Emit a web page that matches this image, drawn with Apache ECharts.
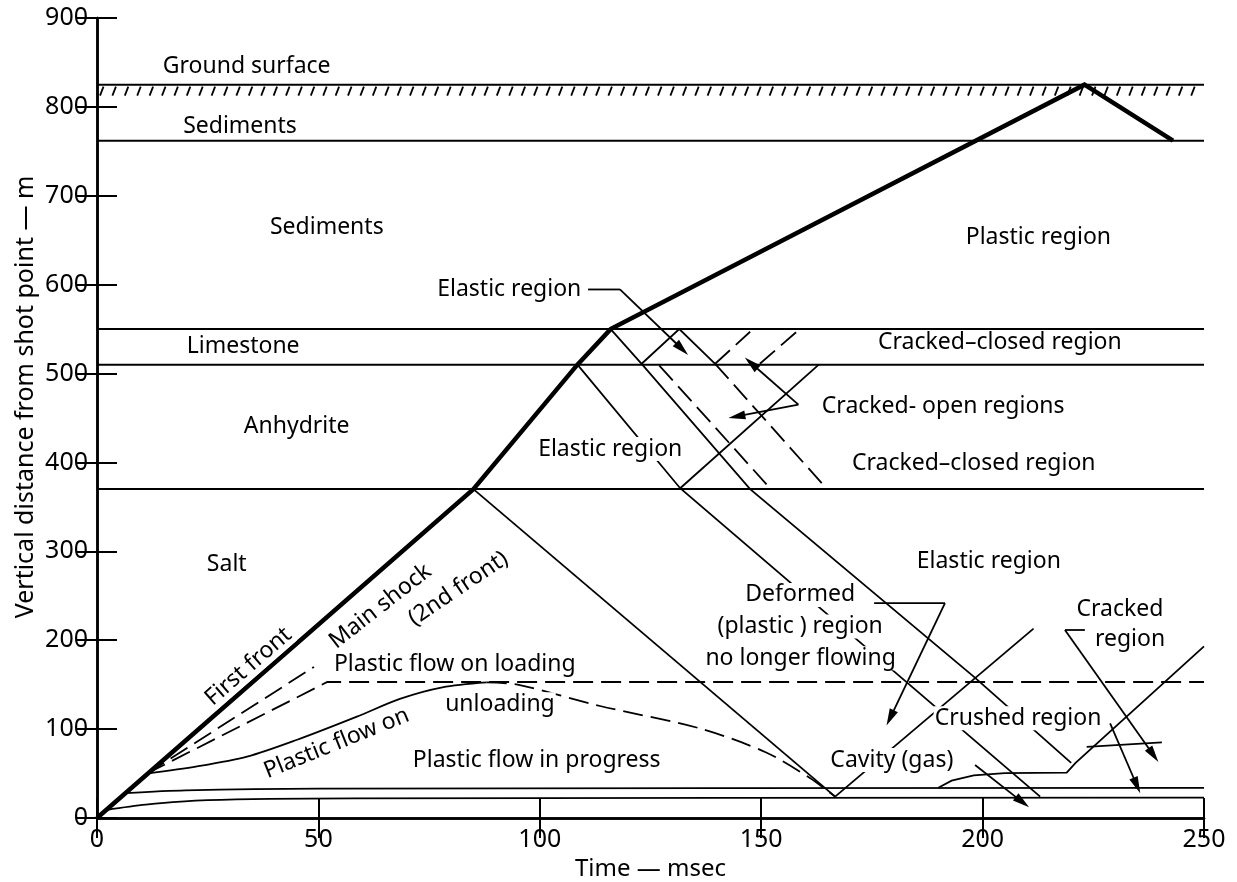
<!DOCTYPE html>
<html>
<head>
<meta charset="utf-8">
<script src="https://cdn.jsdelivr.net/npm/echarts@6/dist/echarts.min.js"></script>
<style>
  html, body { margin: 0; padding: 0; background: #fff; }
  #chart { width: 1237px; height: 882px; }
</style>
</head>
<body>
<div id="chart"></div>
<script>
// axes: time (msec) and vertical distance from shot point (m)
const timeTicks = [0, 50, 100, 150, 200, 250];
const depthTicks = [0, 100, 200, 300, 400, 500, 600, 700, 800, 900];

// layer boundaries (m)
const groundSurface = 825;
const layerBounds = [762, 550, 510, 370];

// first front (heavy line)
const firstFront = [[0, 0], [85, 370], [108.5, 510], [116, 550], [223, 825], [243, 762]];

// reflected / refracted fronts
const reflect1 = [[85, 370], [166.7, 24]];
const reflect2 = [[108.5, 510], [131.7, 371], [213, 24]];
const reflect3 = [[116, 550], [123, 511], [147.5, 370], [198, 159], [220, 62]];
const upRay1 = [[123, 511], [131.5, 550], [139.6, 511]];
const upRay2 = [[131.7, 371], [163, 510]];
const cavityRay = [[166.7, 24], [211.5, 213]];

// cracked regions (dashed)
const crackDash1 = [[127, 509], [152, 371]];
const crackDash2 = [[139.6, 511], [164.7, 371]];
const crackDash3 = [[139.6, 511], [147.5, 547]];
const crackDash4 = [[149.7, 511], [158, 547]];

// plastic flow
const loadingUpper = [[11.3, 50], [49, 170]];
const loadingLower = [[11.3, 50], [52, 153], [250, 153]];
const unloadSolid = [[11.3, 50], [22.6, 58], [33.9, 69], [45.2, 88], [58.7, 114], [68.4, 134], [78, 147], [88, 152.5]];
const unloadDashed = [[88, 152.5], [95, 150], [113.6, 126], [136, 101], [151, 74], [161, 45], [166.7, 24]];

// bottom lines, crushed region, cavity
const bottomUpper = [[6.5, 28], [20, 31], [50, 33], [250, 34]];
const bottomLower = [[2, 9], [11, 15], [25, 20], [58, 22], [250, 23]];
const crushedEdge = [[190, 34], [193, 42], [198, 48], [205, 50.5], [219, 51], [221, 62], [250, 193]];
const crushedBranch = [[223.5, 80], [240.5, 85]];

// leader lines without heads
const leaders = [
  [[110.9, 594.6], [118.1, 594.6]],
  [[175.5, 241.8], [191.5, 241.8]],
  [[218.6, 211.5], [223.1, 211.5]]
];
// arrows: x1, y1, x2 (head), y2 (head)
const arrows = [
  [118.1, 594.6, 133.5, 521],
  [158.4, 465, 146.3, 518],
  [158.4, 465, 142.6, 450],
  [191.5, 241.8, 178.3, 104],
  [218.6, 211.5, 239.7, 63],
  [228.8, 106.5, 235.6, 27.8],
  [198.3, 59.6, 210.5, 12]
];

// labels: text, time, distance
const labels = [
  ['Ground surface', 33.8, 846],
  ['Sediments', 32.3, 778],
  ['Sediments', 51.9, 664],
  ['Limestone', 33, 530],
  ['Anhydrite', 45.1, 441],
  ['Salt', 29.3, 285],
  ['Plastic region', 212.6, 653],
  ['Elastic region', 93.1, 595],
  ['Cracked–closed region', 203.9, 535],
  ['Cracked- open regions', 191.1, 463],
  ['Elastic region', 115.9, 415],
  ['Cracked–closed region', 198, 399.4],
  ['Elastic region', 201.4, 288.6],
  ['Deformed', 158.8, 251],
  ['(plastic ) region', 158.8, 215.4],
  ['no longer flowing', 158.9, 179.8],
  ['Cracked', 231, 235],
  ['region', 233.3, 201],
  ['Crushed region', 208, 112.3],
  ['Cavity (gas)', 179.5, 65.3],
  ['Plastic flow in progress', 99.3, 65.3],
  ['Plastic flow on loading', 80.8, 172.3],
  ['Plastic flow on', 54.1, 84],
  ['unloading', 91, 128],
  ['First front', 34.2, 170.4],
  ['Main shock', 64, 238],
  ['(2nd front)', 81.6, 258]
];
const labelRotate = { 'Plastic flow on': 22, 'First front': 41, 'Main shock': 38, '(2nd front)': 34 };

const FONT = '"Noto Sans", sans-serif';

function lineSeries(data, width, dashed, smooth) {
  return {
    type: 'line',
    data: data,
    showSymbol: false,
    symbol: 'none',
    silent: true,
    smooth: smooth || false,
    z: 2,
    lineStyle: { color: '#000', width: width, type: dashed ? [20, 8] : 'solid', join: 'miter' }
  };
}

const series = [];
[groundSurface].concat(layerBounds).forEach(function (d) {
  series.push(lineSeries([[timeTicks[0], d], [timeTicks[timeTicks.length - 1], d]], 2));
});
series.push(lineSeries(firstFront, 4.5));
[reflect1, reflect2, reflect3, upRay1, upRay2, cavityRay, crushedBranch]
  .forEach(function (d) { series.push(lineSeries(d, 1.8)); });
[unloadSolid, bottomUpper, bottomLower].forEach(function (d) { series.push(lineSeries(d, 1.8, false, 0.3)); });
series.push(lineSeries(crushedEdge, 1.8));
[crackDash1, crackDash2, crackDash3, crackDash4, loadingUpper, loadingLower]
  .forEach(function (d) { series.push(lineSeries(d, 1.8, true)); });
series.push(lineSeries(unloadDashed, 1.8, true, 0.3));
leaders.forEach(function (d) { series.push(lineSeries(d, 1.8)); });

// hatching under the ground surface line
series.push({
  type: 'custom',
  silent: true,
  z: 2,
  data: [[timeTicks[0], timeTicks[timeTicks.length - 1], groundSurface]],
  renderItem: function (params, api) {
    const a = api.coord([api.value(0), api.value(2)]);
    const b = api.coord([api.value(1), api.value(2)]);
    const children = [];
    for (let x = a[0] + 3; x < b[0] - 2; x += 12.4) {
      children.push({
        type: 'line',
        shape: { x1: x + 3.5, y1: a[1] + 2, x2: x, y2: a[1] + 11 },
        style: { stroke: '#000', lineWidth: 1.8 }
      });
    }
    return { type: 'group', children: children };
  }
});

// arrows with filled heads
series.push({
  type: 'custom',
  silent: true,
  z: 3,
  data: arrows,
  renderItem: function (params, api) {
    const a = api.coord([api.value(0), api.value(1)]);
    const b = api.coord([api.value(2), api.value(3)]);
    const dx = b[0] - a[0], dy = b[1] - a[1];
    const len = Math.sqrt(dx * dx + dy * dy);
    const ux = dx / len, uy = dy / len;
    const hl = 17, hw = 4.5;
    const base = [b[0] - ux * hl, b[1] - uy * hl];
    return {
      type: 'group',
      children: [
        { type: 'line', shape: { x1: a[0], y1: a[1], x2: base[0] + ux * 2, y2: base[1] + uy * 2 }, style: { stroke: '#000', lineWidth: 1.8 } },
        { type: 'polygon', shape: { points: [b, [base[0] - uy * hw, base[1] + ux * hw], [base[0] + uy * hw, base[1] - ux * hw]] }, style: { fill: '#000' } }
      ]
    };
  }
});

// text labels (white box hides the lines running behind them)
series.push({
  type: 'custom',
  silent: true,
  z: 10,
  data: labels.map(function (l) { return [l[1], l[2]]; }),
  renderItem: function (params, api) {
    const p = api.coord([api.value(0), api.value(1)]);
    const txt = labels[params.dataIndex][0];
    const rot = labelRotate[txt] || 0;
    return {
      type: 'text',
      x: p[0],
      y: p[1],
      rotation: rot * Math.PI / 180,
      style: {
        text: txt,
        fill: '#000',
        font: '23px ' + FONT,
        lineHeight: 24,
        align: 'center',
        verticalAlign: 'middle',
        backgroundColor: '#fff',
        padding: [0, 1]
      }
    };
  }
});

const axisLine = { show: true, lineStyle: { color: '#000', width: 2.5 } };
const axisTick = { show: true, inside: true, length: 20, lineStyle: { color: '#000', width: 2 } };

const option = {
  animation: false,
  backgroundColor: '#fff',
  grid: { left: 97, right: 33, top: 18, bottom: 64, containLabel: false, outerBoundsMode: 'none' },
  xAxis: [
    {
      type: 'value', position: 'bottom',
      min: timeTicks[0], max: timeTicks[timeTicks.length - 1], interval: timeTicks[1] - timeTicks[0],
      axisLine: axisLine, axisTick: axisTick, splitLine: { show: false },
      axisLabel: { color: '#000', fontSize: 25, fontFamily: FONT, margin: 9 },
      name: 'Time — msec', nameLocation: 'middle', nameGap: 36,
      nameTextStyle: { color: '#000', fontSize: 24, fontFamily: FONT }
    },
    {
      type: 'value', position: 'top',
      min: timeTicks[0], max: timeTicks[timeTicks.length - 1], interval: timeTicks[1] - timeTicks[0],
      axisLine: axisLine, axisTick: axisTick, splitLine: { show: false }, axisLabel: { show: false }
    }
  ],
  yAxis: [
    {
      type: 'value', position: 'left',
      min: depthTicks[0], max: depthTicks[depthTicks.length - 1], interval: depthTicks[1] - depthTicks[0],
      axisLine: axisLine, axisTick: axisTick, splitLine: { show: false },
      axisLabel: { color: '#000', fontSize: 25, fontFamily: FONT, margin: 9 }
    },
    {
      type: 'value', position: 'right',
      min: depthTicks[0], max: depthTicks[depthTicks.length - 1], interval: depthTicks[1] - depthTicks[0],
      axisLine: axisLine, axisTick: axisTick, splitLine: { show: false }, axisLabel: { show: false }
    }
  ],
  graphic: [{
    type: 'text',
    x: 26, y: 397,
    rotation: Math.PI / 2,
    style: {
      text: 'Vertical distance from shot point — m',
      fill: '#000',
      font: '25px ' + FONT,
      align: 'center',
      verticalAlign: 'middle'
    }
  }],
  series: series
};

const chart = echarts.init(document.getElementById('chart'));
chart.setOption(option);
</script>
</body>
</html>
